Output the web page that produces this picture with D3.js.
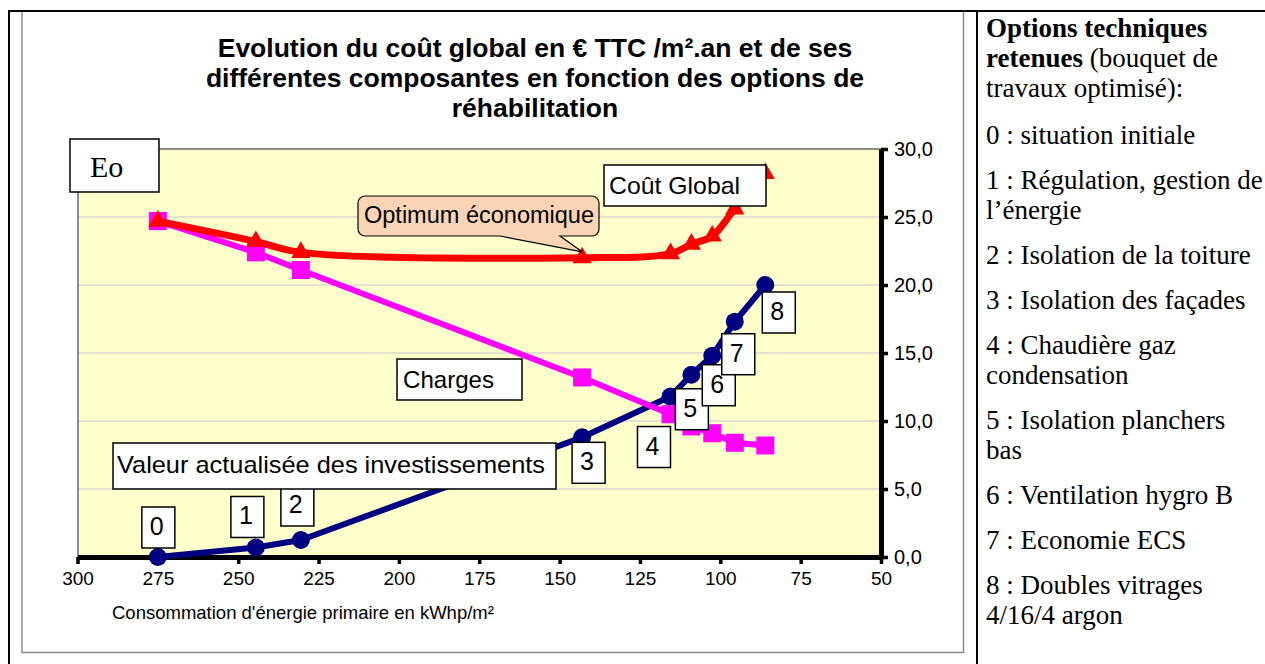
<!DOCTYPE html>
<html>
<head>
<meta charset="utf-8">
<script src="https://cdn.jsdelivr.net/npm/d3@7.9.0/dist/d3.min.js"></script>
<style>
  body { margin: 0; background: #fff; }
  svg { display: block; }
  .sans { font-family: "Liberation Sans", Arial, sans-serif; }
  .serif { font-family: "Liberation Serif", "Times New Roman", serif; }
</style>
</head>
<body>
<svg id="chart" width="1265" height="664"></svg>
<script>
// --- data ---
const energie = [275, 244.5, 230.5, 143, 115.5, 109, 102.5, 95.5, 86];          // kWhp/m²
const investissements = [0, 0.7, 1.25, 8.8, 11.8, 13.4, 14.8, 17.3, 20.0];     // € TTC/m².an
const charges = [24.7, 22.4, 21.1, 13.2, 10.5, 9.6, 9.1, 8.4, 8.2];
const coutGlobal = [24.7, 23.2, 22.4, 22.0, 22.3, 23.0, 23.6, 25.6, 28.2];
const pointLabels = ['0', '1', '2', '3', '4', '5', '6', '7', '8'];
const xTicks = [300, 275, 250, 225, 200, 175, 150, 125, 100, 75, 50];
const yTicks = [0, 5, 10, 15, 20, 25, 30];
const optimumIndex = 3;

const titleLines = [
  'Evolution du coût global en € TTC /m².an et de ses',
  'différentes composantes en fonction des options de',
  'réhabilitation'
];

// right-hand panel: [bold part, normal part] per wrapped line, grouped by paragraph
const options = [
  [['Options techniques', ''], ['retenues', ' (bouquet de'], ['', 'travaux optimisé):']],
  [['', '0 : situation initiale']],
  [['', '1 : Régulation, gestion de'], ['', 'l’énergie']],
  [['', '2 : Isolation de la toiture']],
  [['', '3 : Isolation des façades']],
  [['', '4 : Chaudière gaz'], ['', 'condensation']],
  [['', '5 : Isolation planchers'], ['', 'bas']],
  [['', '6 : Ventilation hygro B']],
  [['', '7 : Economie ECS']],
  [['', '8 : Doubles vitrages'], ['', '4/16/4 argon']]
];

// --- layout ---
const plot = { left: 78, right: 881, top: 149, bottom: 557 };
// label box offsets from each investment point (px)
const labelOffsets = [[-16, -50], [-25, -51], [-20, -55], [-10, 5], [-33, 30], [-16, 14], [-10, 9], [-13, 12], [-3, 7]];

const svg = d3.select('#chart');
const fr = d3.formatLocale({ decimal: ',', thousands: ' ', grouping: [3], currency: ['', ' €'] });

const x = d3.scaleLinear().domain([300, 50]).range([plot.left - 0.5, plot.right]);
const y = d3.scaleLinear().domain([0, 30]).range([plot.bottom, plot.top]);

// --- frames ---
svg.append('line').attr('x1', 9).attr('x2', 1265).attr('y1', 11).attr('y2', 11)
  .attr('stroke', '#000').attr('stroke-width', 2);
svg.append('line').attr('x1', 9).attr('x2', 9).attr('y1', 10).attr('y2', 664)
  .attr('stroke', '#000').attr('stroke-width', 2);
svg.append('line').attr('x1', 977).attr('x2', 977).attr('y1', 10).attr('y2', 664)
  .attr('stroke', '#000').attr('stroke-width', 2);
// chart area border (grey)
svg.append('path')
  .attr('d', 'M22,12 V652.5 H963.5 V12')
  .attr('fill', 'none').attr('stroke', '#8c8c8c').attr('stroke-width', 1.5);

// --- title ---
svg.append('text').attr('class', 'sans')
  .attr('text-anchor', 'middle').attr('font-size', 26.5).attr('font-weight', 'bold')
  .selectAll('tspan').data(titleLines).join('tspan')
  .attr('x', 535).attr('y', (d, i) => 57 + i * 30).text(d => d);

// --- plot area ---
svg.append('rect')
  .attr('x', plot.left).attr('y', plot.top)
  .attr('width', plot.right - plot.left).attr('height', plot.bottom - plot.top)
  .attr('fill', '#ffffcc');

svg.append('g').selectAll('line').data(yTicks.filter(t => t > 0 && t < 30)).join('line')
  .attr('x1', plot.left).attr('x2', plot.right)
  .attr('y1', d => y(d)).attr('y2', d => y(d))
  .attr('stroke', '#d9d9d0').attr('stroke-width', 1.5);

svg.append('path')
  .attr('d', `M${plot.left},${plot.bottom} V${plot.top} H${plot.right}`)
  .attr('fill', 'none').attr('stroke', '#8c8c8c').attr('stroke-width', 2);

// axes
const xAxis = svg.append('g').attr('class', 'sans')
  .attr('transform', `translate(0,${plot.bottom})`)
  .call(d3.axisBottom(x).tickValues(xTicks).tickSize(7).tickSizeOuter(0).tickPadding(6).tickFormat(d3.format('d')));
xAxis.select('.domain').attr('stroke-width', 5);
xAxis.selectAll('.tick line').attr('stroke-width', 3.5);
xAxis.selectAll('.tick text').attr('font-size', 19).attr('fill', '#000').attr('dy', '0.8em');

const yAxis = svg.append('g').attr('class', 'sans')
  .attr('transform', `translate(${plot.right},0)`)
  .call(d3.axisRight(y).tickValues(yTicks).tickSize(7).tickSizeOuter(0).tickPadding(6).tickFormat(fr.format('.1f')));
yAxis.select('.domain').attr('stroke-width', 5);
yAxis.selectAll('.tick line').attr('stroke-width', 3.5);
yAxis.selectAll('.tick text').attr('font-size', 20).attr('fill', '#000');

svg.append('text').attr('class', 'sans')
  .attr('x', 112).attr('y', 619).attr('font-size', 18.5)
  .text('Consommation d\'énergie primaire en kWhp/m²');

// --- series ---
const rows = energie.map((e, i) => ({
  e, inv: investissements[i], ch: charges[i], cg: coutGlobal[i], label: pointLabels[i], i
}));

const straight = d3.line().x(d => x(d.e));
const smooth = d3.line().x(d => x(d.e)).curve(d3.curveCatmullRom.alpha(0.5));

// valeur actualisée des investissements
svg.append('path').datum(rows)
  .attr('d', straight.y(d => y(d.inv)))
  .attr('fill', 'none').attr('stroke', '#000080').attr('stroke-width', 6).attr('stroke-linejoin', 'round');
svg.append('g').selectAll('circle').data(rows).join('circle')
  .attr('cx', d => x(d.e)).attr('cy', d => y(d.inv)).attr('r', 9)
  .attr('fill', '#000080');

// charges
svg.append('path').datum(rows)
  .attr('d', d3.line().x(d => x(d.e)).y(d => y(d.ch)))
  .attr('fill', 'none').attr('stroke', '#ff00ff').attr('stroke-width', 6).attr('stroke-linejoin', 'round');
svg.append('g').selectAll('rect').data(rows).join('rect')
  .attr('x', d => x(d.e) - 9).attr('y', d => y(d.ch) - 9)
  .attr('width', 18).attr('height', 18).attr('fill', '#ff00ff');

// coût global
svg.append('path').datum(rows)
  .attr('d', smooth.y(d => y(d.cg)))
  .attr('fill', 'none').attr('stroke', '#ff0000').attr('stroke-width', 7).attr('stroke-linejoin', 'round');
svg.append('g').selectAll('path').data(rows).join('path')
  .attr('transform', d => `translate(${x(d.e)},${y(d.cg)})`)
  .attr('d', d3.symbol(d3.symbolTriangle, 160))
  .attr('fill', '#ff0000');

// --- point labels 0..8 ---
const lbl = svg.append('g').attr('class', 'sans').selectAll('g').data(rows).join('g')
  .attr('transform', d => `translate(${x(d.e) + labelOffsets[d.i][0]},${y(d.inv) + labelOffsets[d.i][1]})`);
lbl.append('rect').attr('width', 33).attr('height', 41)
  .attr('fill', '#fff').attr('stroke', '#000').attr('stroke-width', 1.5);
lbl.append('text').attr('x', 8).attr('y', 28).attr('font-size', 25).text(d => d.label);

// --- annotation boxes ---
function box(x0, y0, w, h, txt, size, tx, ty, cls, len) {
  const g = svg.append('g').attr('class', cls);
  g.append('rect').attr('x', x0).attr('y', y0).attr('width', w).attr('height', h)
    .attr('fill', '#fff').attr('stroke', '#000').attr('stroke-width', 1.5);
  const t = g.append('text').attr('x', tx).attr('y', ty).attr('font-size', size).text(txt);
  if (len) t.attr('textLength', len).attr('lengthAdjust', 'spacingAndGlyphs');
}
box(70, 139, 89, 53, 'Eo', 30, 90, 177, 'serif');
box(604, 165, 162, 41, 'Coût Global', 24, 609, 194, 'sans', 131);
box(397, 359, 125, 41, 'Charges', 24, 403, 388, 'sans', 91);
box(113, 443, 443, 46, 'Valeur actualisée des investissements', 24, 117, 473, 'sans', 428);

// optimum économique callout pointing at the optimum point
const tipX = x(energie[optimumIndex]), tipY = y(coutGlobal[optimumIndex]) - 6;
const c = { l: 358, r: 599, t: 196, b: 236, rad: 7 };
const p = d3.path();
p.moveTo(c.l + c.rad, c.t);
p.lineTo(c.r - c.rad, c.t); p.arcTo(c.r, c.t, c.r, c.t + c.rad, c.rad);
p.lineTo(c.r, c.b - c.rad); p.arcTo(c.r, c.b, c.r - c.rad, c.b, c.rad);
p.lineTo(560, c.b); p.lineTo(tipX, tipY); p.lineTo(500, c.b);
p.lineTo(c.l + c.rad, c.b); p.arcTo(c.l, c.b, c.l, c.b - c.rad, c.rad);
p.lineTo(c.l, c.t + c.rad); p.arcTo(c.l, c.t, c.l + c.rad, c.t, c.rad);
p.closePath();
svg.append('path').attr('d', p.toString())
  .attr('fill', '#fad4b4').attr('stroke', '#000').attr('stroke-width', 1.2);
svg.append('text').attr('class', 'sans').attr('x', 364).attr('y', 223)
  .attr('font-size', 23).attr('textLength', 230).attr('lengthAdjust', 'spacingAndGlyphs')
  .text('Optimum économique');

// --- right panel ---
const panel = svg.append('g').attr('class', 'serif').attr('font-size', 27);
let yy = 37;
options.forEach((para, pi) => {
  para.forEach(([b, n]) => {
    const t = panel.append('text').attr('x', 986).attr('y', yy);
    if (b) t.append('tspan').attr('font-weight', 'bold').text(b);
    if (n) t.append('tspan').text(n);
    yy += 30;
  });
  yy += pi === 0 ? 17 : 15;
});
</script>
</body>
</html>
